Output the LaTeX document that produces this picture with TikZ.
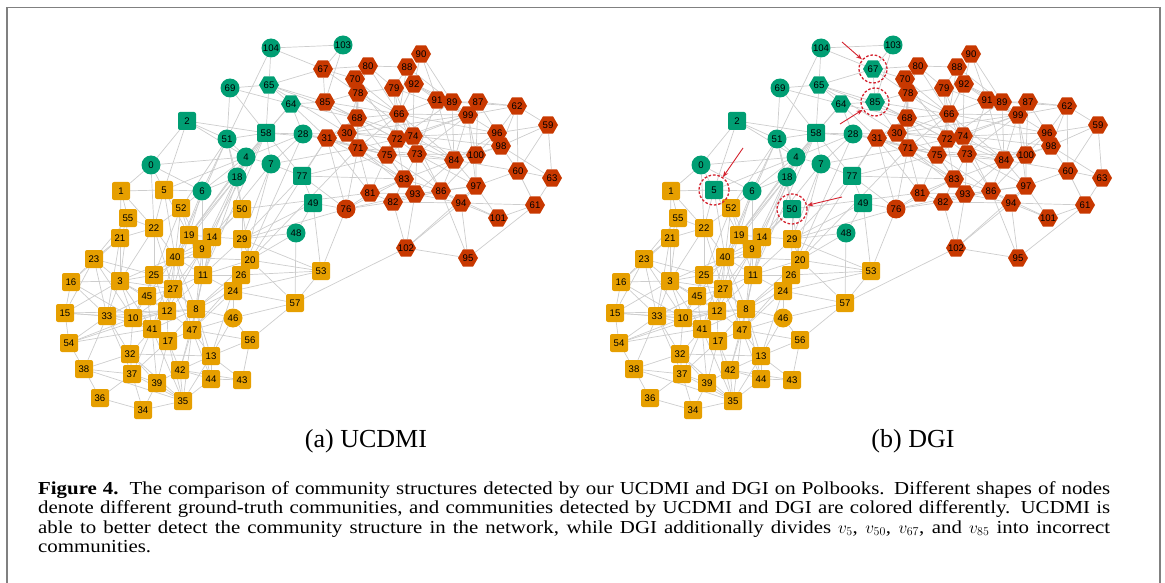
\documentclass[tikz,border=0pt]{standalone}
\usepackage{fontspec}
\setmainfont{Liberation Serif}
\newfontfamily\nodefont{Liberation Sans}
\newfontfamily\capfont[FakeStretch=1.14]{Liberation Serif}
\usetikzlibrary{shapes.geometric,arrows.meta}
\pgfdeclarelayer{edges}
\pgfsetlayers{edges,main}

\definecolor{cgreen}{RGB}{0,158,115}
\definecolor{corange}{RGB}{230,159,0}
\definecolor{cred}{RGB}{200,56,0}
\definecolor{edgegray}{RGB}{205,205,205}
\definecolor{framegray}{RGB}{128,128,128}
\definecolor{markred}{RGB}{212,36,48}

\tikzset{
  sq/.style={rectangle, rounded corners=2pt, minimum size=18pt, inner sep=0pt},
  ci/.style={circle, minimum size=19pt, inner sep=0pt},
  hx/.style={regular polygon, regular polygon sides=6, minimum size=20pt, inner xsep=-3pt, inner ysep=0pt},
  vtx/.style={font=\nodefont\fontsize{9.6}{10}\selectfont, text=black},
  edge/.style={draw=edgegray, line width=0.7pt},
  ring/.style={circle, draw=markred, dashed, dash pattern=on 2.6pt off 1.8pt, line width=1.3pt, minimum size=30pt, inner sep=0pt},
  pointer/.style={draw=markred, line width=0.9pt, -{Stealth[length=6pt,width=4.5pt]}},
  subcap/.style={font=\fontsize{26}{30}\selectfont, inner sep=0pt, anchor=base},
}

% Polbooks co-purchase network: vertices (x, y, shape, colour) and edges
\newcommand\polgraph{%
  \foreach \n/\px/\py/\sh/\col in {
    0/151/165/ci/cgreen, 1/121/191/sq/corange, 2/187/121/sq/cgreen,
    3/120/281/sq/corange, 4/246/157/ci/cgreen, 5/164/190/sq/\movedsq,
    6/202/191/ci/cgreen, 7/271/164/ci/cgreen, 8/196/309/sq/corange,
    9/202/249/sq/corange, 10/133/318/sq/corange, 11/203/275/sq/corange,
    12/167/311/sq/corange, 13/211/356/sq/corange, 14/212/237/sq/corange,
    15/65/313/sq/corange, 16/71/282/sq/corange, 17/168/341/sq/corange,
    18/237/177/ci/cgreen, 19/189/235/sq/corange, 20/250/260/sq/corange,
    21/120/238/sq/corange, 22/154/228/sq/corange, 23/94/259/sq/corange,
    24/233/291/sq/corange, 25/154/275/sq/corange, 26/241/275/sq/corange,
    27/173/289/sq/corange, 28/303/134/ci/cgreen, 29/242/239/sq/corange,
    30/347/133/hx/cred, 31/327/138/hx/cred, 32/130/354/sq/corange,
    33/107/316/sq/corange, 34/143/410/sq/corange, 35/183/401/sq/corange,
    36/100/398/sq/corange, 37/132/374/sq/corange, 38/84/369/sq/corange,
    39/157/383/sq/corange, 40/175/257/sq/corange, 41/152/329/sq/corange,
    42/180/370/sq/corange, 43/242/380/sq/corange, 44/211/379/sq/corange,
    45/147/296/sq/corange, 46/233/318/ci/corange, 47/192/330/sq/corange,
    48/296/233/ci/cgreen, 49/313/203/sq/cgreen, 50/242/209/sq/\movedsq,
    51/227/139/ci/cgreen, 52/181/208/sq/corange, 53/321/271/sq/corange,
    54/69/343/sq/corange, 55/128/218/sq/corange, 56/250/340/sq/corange,
    57/295/303/sq/corange, 58/266/133/sq/cgreen, 59/548/125/hx/cred,
    60/518/171/hx/cred, 61/535/205/hx/cred, 62/517/106/hx/cred,
    63/552/178/hx/cred, 64/291/104/hx/cgreen, 65/269/85/hx/cgreen,
    66/399/114/hx/cred, 67/323/69/hx/\movedhx, 68/357/118/hx/cred,
    69/230/88/ci/cgreen, 70/355/79/hx/cred, 71/358/148/hx/cred,
    72/397/139/hx/cred, 73/417/154/hx/cred, 74/413/136/hx/cred,
    75/387/155/hx/cred, 76/346/209/ci/cred, 77/302/176/sq/cgreen,
    78/358/93/hx/cred, 79/394/88/hx/cred, 80/368/66/hx/cred,
    81/370/193/hx/cred, 82/393/202/hx/cred, 83/404/179/hx/cred,
    84/454/160/hx/cred, 85/325/102/hx/\movedhx, 86/441/191/hx/cred,
    87/478/102/hx/cred, 88/407/67/hx/cred, 89/452/102/hx/cred,
    90/421/54/hx/cred, 91/437/100/hx/cred, 92/414/84/hx/cred,
    93/415/194/hx/cred, 94/461/203/hx/cred, 95/468/258/hx/cred,
    96/497/133/hx/cred, 97/476/186/hx/cred, 98/501/146/hx/cred,
    99/468/115/hx/cred, 100/476/155/hx/cred, 101/498/218/hx/cred,
    102/406/248/hx/cred, 103/343/45/ci/cgreen, 104/271/48/ci/cgreen}
  {\node[\sh, fill=\col, vtx] (\n) at (\px,\py) {\n};}
  \begin{pgfonlayer}{edges}
  \foreach \u/\v in {
    104/103, 104/51, 104/65, 104/67, 103/67, 103/85,
    69/65, 69/51, 69/58, 69/64,
    65/64, 65/85, 65/58, 65/67, 65/30, 65/68,
    64/85, 64/58, 64/4, 64/28, 64/31, 64/68,
    2/51, 2/0, 2/4, 2/5, 2/58,
    51/4, 51/18, 51/6, 51/58, 51/50, 51/40,
    58/4, 58/7, 58/28, 58/18, 58/77, 58/31, 58/9,
    28/31, 28/7, 28/4, 28/30, 28/75,
    4/7, 4/18, 4/0, 4/6, 4/5, 4/19,
    7/77, 7/29, 7/71, 18/6, 18/50, 18/14, 18/19,
    0/1, 0/5, 0/6, 0/22, 6/5, 6/52, 6/19, 6/9, 6/40,
    77/49, 77/76, 77/83, 77/31, 77/75,
    49/48, 49/76, 49/53, 49/29, 48/29, 48/57, 48/20,
    67/85, 67/70, 67/78, 67/80,
    85/68, 85/78, 85/30, 85/66, 85/72,
    90/88, 90/91, 90/89, 90/92,
    80/70, 80/88, 80/78, 80/79, 80/66,
    88/92, 88/79, 88/66, 88/89,
    70/78, 70/68, 70/66, 70/72,
    78/68, 78/66, 78/79, 78/74, 78/30, 78/71,
    79/92, 79/66, 79/72, 79/74, 79/99,
    92/91, 92/89, 92/66, 92/99, 92/74,
    91/89, 91/99, 91/84, 91/66, 91/73,
    89/87, 89/99, 89/84, 89/62, 89/72,
    87/99, 87/62, 87/96, 87/100,
    62/59, 62/96, 62/60, 62/99, 62/98,
    59/96, 59/63, 59/60, 59/98,
    96/98, 96/99, 96/100, 96/84, 96/66,
    98/84, 98/60, 98/63, 98/100, 98/74,
    60/63, 60/97, 60/61, 60/84, 63/61,
    66/72, 66/74, 66/68, 66/99, 66/73, 66/75, 66/84, 66/71, 66/30,
    68/30, 68/71, 68/72, 68/74, 68/31, 68/75,
    30/31, 30/71, 30/72, 30/74, 30/75, 30/99,
    31/71, 31/76, 31/81, 31/75, 31/83,
    72/74, 72/75, 72/73, 72/84, 72/83, 72/99, 72/100,
    74/73, 74/84, 74/99, 74/75, 74/96, 74/86,
    71/75, 71/83, 71/72, 71/81, 71/93, 71/73,
    75/73, 75/83, 75/93, 75/84, 75/86, 75/81,
    73/84, 73/83, 73/86, 73/93, 73/100, 73/99, 73/97,
    84/100, 84/86, 84/97, 84/99, 84/93, 84/83,
    100/97, 100/99, 100/86,
    83/93, 83/86, 83/81, 83/82,
    86/93, 86/94, 86/97, 86/82, 86/101, 86/95,
    97/94, 97/101, 97/93, 97/99,
    93/82, 93/102, 93/81, 93/94,
    81/82, 81/76, 82/76, 82/102, 82/94,
    94/101, 94/95, 94/102, 94/61, 101/61, 61/95,
    102/95, 102/57, 102/97, 76/53, 76/71, 76/93, 76/83,
    1/5, 1/55, 1/21, 1/22,
    5/52, 5/22, 5/40, 5/19,
    52/22, 52/40, 52/19, 52/25, 52/9,
    55/21, 55/22, 55/3, 55/23,
    22/40, 22/3, 22/25, 22/27, 22/21,
    21/23, 21/3, 21/16, 21/33,
    19/14, 19/9, 19/40, 19/11, 19/27,
    14/9, 14/29, 14/11, 14/40, 14/8,
    9/40, 9/11, 9/27, 9/8, 9/25, 9/12,
    50/29, 50/20, 50/9, 50/14,
    29/20, 29/26, 29/11, 29/53,
    20/26, 20/24, 20/53, 20/11, 20/8, 20/57, 20/40,
    23/3, 23/16, 23/15, 23/33, 23/25, 23/10,
    40/25, 40/27, 40/11, 40/12, 40/8, 40/3, 40/45, 40/47, 40/41,
    3/25, 3/16, 3/33, 3/10, 3/45, 3/12, 3/27, 3/41, 3/15,
    25/27, 25/45, 25/12, 25/11, 25/10, 25/8,
    11/27, 11/8, 11/26, 11/24, 11/47, 11/12,
    26/24, 26/8, 26/53, 26/47,
    24/8, 24/46, 24/47, 24/13, 24/53, 24/57,
    27/12, 27/8, 27/45, 27/41, 27/47, 27/10,
    45/12, 45/10, 45/41, 45/33,
    16/15, 16/33, 16/10,
    15/54, 15/33, 15/10, 15/12,
    33/10, 33/54, 33/32, 33/37, 33/41, 33/12, 33/38,
    10/12, 10/41, 10/32, 10/17, 10/8, 10/54,
    12/8, 12/41, 12/17, 12/47, 12/54,
    8/47, 8/46, 8/13, 8/17, 8/42, 8/41, 8/44,
    46/56, 46/57, 46/13, 46/47,
    41/17, 41/32, 41/37, 41/35, 41/39,
    47/17, 47/13, 47/42, 47/44, 47/35,
    17/42, 17/39, 17/35, 17/37,
    54/38, 54/41,
    56/43, 56/57, 56/13, 56/47,
    32/37, 32/38, 32/39, 32/13, 32/35,
    13/44, 13/42, 13/43, 13/35,
    38/37, 38/36, 38/35,
    42/35, 42/44, 42/43, 42/39,
    37/39, 37/34, 37/36, 37/35,
    44/43, 44/35, 39/35, 39/34, 36/34, 34/35, 57/53,
    50/81, 29/76, 18/40, 4/9, 7/14, 51/52, 58/19, 77/29, 31/20,
    4/11, 7/26, 58/11, 71/20, 28/24}
  {\draw[edge] (\u) -- (\v);}
  \end{pgfonlayer}%
}

\begin{document}
\begin{tikzpicture}[x=1pt, y=-1pt]
\useasboundingbox (0,0) rectangle (1165,583);

% open frame around the figure
\draw[framegray, line width=1.6pt] (7,583) -- (7,7.5) -- (1160,7.5) -- (1160,583);

% (a) UCDMI partition
\begin{scope}[name prefix=a-]
  \def\movedsq{corange}\def\movedhx{cred}
  \polgraph
\end{scope}

% (b) DGI partition, same layout shifted right
\begin{scope}[name prefix=b-, xshift=550]
  \def\movedsq{cgreen}\def\movedhx{cgreen}
  \polgraph
\end{scope}

% rings and pointers at the misassigned vertices in (b)
\node[ring] (r5) at (b-5) {};
\node[ring] (r50) at (b-50) {};
\node[ring, minimum size=28pt] (r67) at (b-67) {};
\node[ring, minimum size=28pt] (r85) at (b-85) {};
\coordinate (p5) at (743,148);
\coordinate (p50) at (842,197);
\coordinate (p67) at (842,42);
\coordinate (p85) at (840,124);
\draw[pointer] (p5) -- (r5);
\draw[pointer] (p50) -- (r50);
\draw[pointer] (p67) -- (r67);
\draw[pointer] (p85) -- (r85);

% sub-captions
\node[subcap] (capa) at (366,447) {(a) UCDMI};
\node[subcap] (capb) at (913,447) {(b) DGI};

% figure caption
\node[anchor=north west, text width=1072pt, align=justify, inner sep=0pt,
      font=\capfont\fontsize{18.3}{19.6}\selectfont] (cap) at (38,481)
{\tolerance=10000\hyphenpenalty=10000\textbf{Figure 4.}\hspace{0.6em}The comparison of community structures detected by our UCDMI and DGI on Polbooks. Different shapes of nodes\linebreak
denote different ground-truth communities, and communities detected by UCDMI and DGI are colored differently. UCDMI is\linebreak
able to better detect the community structure in the network, while DGI additionally divides $v_5$, $v_{50}$, $v_{67}$, and $v_{85}$ into incorrect\linebreak
communities.};
\end{tikzpicture}
\end{document}
